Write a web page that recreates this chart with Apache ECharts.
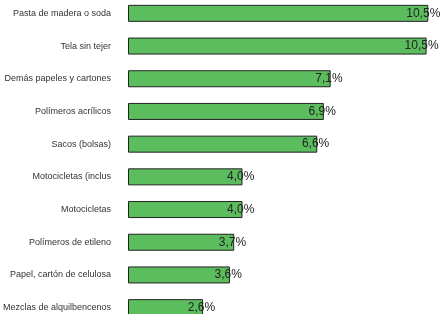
<!DOCTYPE html>
<html>
<head>
<meta charset="utf-8">
<script src="https://cdn.jsdelivr.net/npm/echarts@6/dist/echarts.min.js"></script>
<style>
  html, body { margin: 0; padding: 0; background: #fff; }
  #chart { width: 442px; height: 314px; }
</style>
</head>
<body>
<div id="chart"></div>
<script>
// categorias, de arriba hacia abajo
var categorias = [
  'Pasta de madera o soda',
  'Tela sin tejer',
  'Demás papeles y cartones',
  'Polímeros acrílicos',
  'Sacos (bolsas)',
  'Motocicletas (inclus',
  'Motocicletas',
  'Polímeros de etileno',
  'Papel, cartón de celulosa',
  'Mezclas de alquilbencenos'
];
// participacion en %
var valores = [10.52, 10.46, 7.1, 6.86, 6.63, 4.01, 4.01, 3.72, 3.57, 2.63];

var chart = echarts.init(document.getElementById('chart'));

var option = {
  backgroundColor: '#fff',
  animation: false,
  grid: {
    top: -3,
    bottom: -10,
    left: 128,
    right: 0,
    containLabel: false,
    outerBoundsMode: 'none'
  },
  xAxis: {
    type: 'value',
    min: 0,
    max: 11,
    show: false
  },
  yAxis: {
    type: 'category',
    inverse: true,
    data: categorias,
    axisLine: { show: false },
    axisTick: { show: false },
    axisLabel: {
      margin: 17,
      fontFamily: 'Liberation Sans',
      fontSize: 9,
      color: '#333'
    }
  },
  series: [{
    type: 'bar',
    data: valores,
    barWidth: '52%',
    itemStyle: {
      color: '#5cbd5e',
      borderColor: '#222',
      borderWidth: 1
    },
    label: {
      show: true,
      position: 'insideRight',
      distance: 0,
      offset: [12, 0],
      fontFamily: 'Liberation Sans',
      fontSize: 12,
      color: '#222',
      formatter: function (p) {
        return p.value.toFixed(1).replace('.', ',') + '%';
      }
    }
  }]
};

chart.setOption(option);
</script>
</body>
</html>
